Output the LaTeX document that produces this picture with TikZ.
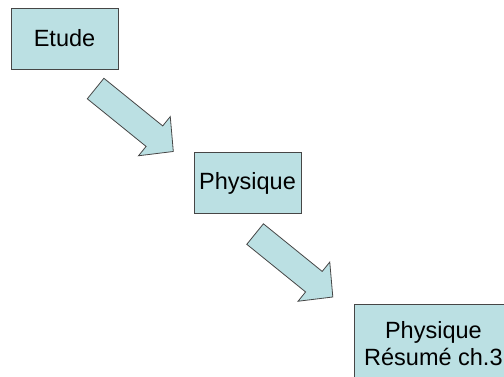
\documentclass[tikz,border=0pt]{standalone}
\usepackage{fontspec}
\setmainfont{Liberation Sans}
\usepackage{tikz}
\usetikzlibrary{shapes,arrows,positioning,calc}

\definecolor{boxfill}{RGB}{187,224,227}
\definecolor{boxline}{RGB}{70,70,70}

\tikzset{
    stage/.style={draw=boxline, fill=boxfill, line width=0.8bp, inner sep=0pt,
        minimum width=107bp, minimum height=61bp, align=center,
        font=\fontsize{23.5bp}{27bp}\selectfont},
    bigarrow/.style={single arrow, draw=boxline, fill=boxfill, line width=0.8bp,
        inner xsep=0pt, inner ysep=12.8bp, minimum height=100bp, minimum width=50bp,
        single arrow head extend=12bp, single arrow tip angle=92, rotate=-39}
}

\begin{document}
\begin{tikzpicture}[x=1bp, y=-1bp]
    \useasboundingbox (0,0) rectangle (504,376);
    \clip (0,0) rectangle (504,376);

    \node[stage] (etude) at (64.5,38.5) {Etude};
    \node[stage] (phys) at (247.5,183) {Physique};
    \node[stage, anchor=north west, minimum width=158bp, minimum height=78bp] (resume) at (354,304)
        {Physique\\Résumé ch.3};

    % block arrows between the stages
    \node[bigarrow] (a1) at (129.5,116) {};
    \node[bigarrow] (a2) at (289,261.5) {};
\end{tikzpicture}
\end{document}
